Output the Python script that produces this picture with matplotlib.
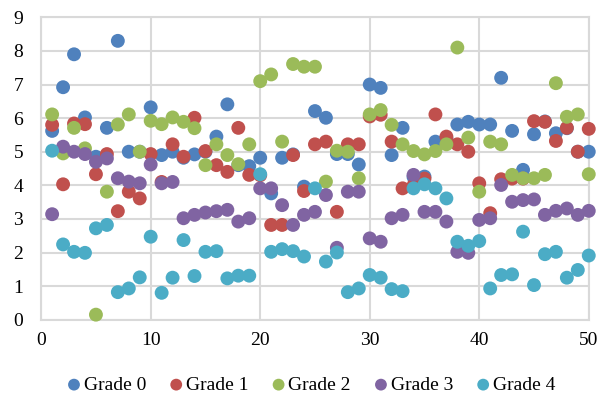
import matplotlib
matplotlib.use("Agg")
import matplotlib.pyplot as plt

plt.rcParams['font.family'] = ['Liberation Serif', 'DejaVu Serif']

x = list(range(1, 51))

grade0 = [5.62, 6.92, 7.90, 6.02, 4.85, 5.71, 8.30, 5.00, 5.00, 6.32,
          4.90, 5.00, 4.82, 4.92, 5.00, 5.45, 6.41, 4.60, 4.57, 4.82,
          3.76, 4.82, 4.92, 3.96, 6.21, 6.01, 4.93, 4.93, 4.62, 7.00,
          6.90, 4.90, 5.71, 4.25, 4.26, 5.30, 5.40, 5.81, 5.89, 5.81,
          5.81, 7.20, 5.62, 4.46, 5.52, 5.90, 5.55, 5.70, 5.00, 5.00]
grade1 = [5.80, 4.03, 5.84, 5.82, 4.33, 4.93, 3.23, 3.81, 3.61, 4.93,
          4.10, 5.22, 4.85, 6.01, 5.02, 4.60, 4.40, 5.71, 4.31, 4.30,
          2.82, 2.82, 4.90, 3.83, 5.22, 5.30, 3.21, 5.22, 5.22, 6.05,
          6.10, 5.30, 3.91, 4.00, 4.20, 6.11, 5.45, 5.22, 5.00, 4.06,
          3.17, 4.18, 4.20, 4.20, 5.91, 5.89, 5.32, 5.71, 5.00, 5.68]
grade2 = [6.11, 4.95, 5.71, 5.10, 0.15, 3.81, 5.81, 6.11, 5.00, 5.92,
          5.82, 6.02, 5.89, 5.70, 4.60, 5.22, 4.90, 4.63, 5.22, 7.10,
          7.30, 5.30, 7.61, 7.53, 7.53, 4.11, 5.03, 5.00, 4.21, 6.11,
          6.24, 5.80, 5.22, 5.02, 4.92, 5.02, 5.22, 8.10, 5.42, 3.81,
          5.30, 5.22, 4.31, 4.21, 4.21, 4.31, 7.04, 6.04, 6.11, 4.33]
grade3 = [3.14, 5.15, 5.00, 4.93, 4.70, 4.80, 4.21, 4.11, 4.06, 4.62,
          4.06, 4.10, 3.02, 3.12, 3.19, 3.23, 3.27, 2.92, 3.02, 3.91,
          3.91, 3.41, 2.82, 3.12, 3.21, 3.71, 2.14, 3.81, 3.81, 2.42,
          2.32, 3.02, 3.12, 4.31, 3.21, 3.21, 2.92, 2.02, 1.99, 2.97,
          3.02, 4.01, 3.51, 3.56, 3.58, 3.12, 3.24, 3.31, 3.12, 3.24]
grade4 = [5.03, 2.24, 2.02, 1.99, 2.72, 2.82, 0.82, 0.93, 1.26, 2.47,
          0.80, 1.25, 2.37, 1.30, 2.02, 2.04, 1.23, 1.31, 1.31, 4.33,
          2.02, 2.10, 2.04, 1.88, 3.91, 1.73, 2.00, 0.82, 0.93, 1.33,
          1.25, 0.91, 0.85, 3.91, 4.03, 3.91, 3.61, 2.32, 2.20, 2.34,
          0.93, 1.33, 1.35, 2.62, 1.03, 1.95, 2.02, 1.25, 1.48, 1.91]

series = [("Grade 0", grade0, "#4F81BD"),
          ("Grade 1", grade1, "#C0504D"),
          ("Grade 2", grade2, "#9BBB59"),
          ("Grade 3", grade3, "#8064A2"),
          ("Grade 4", grade4, "#4BACC6")]

fig = plt.figure(figsize=(6.02, 3.94), dpi=100)
ax = fig.add_axes([0.0684, 0.1886, 0.9096, 0.7674])

for name, vals, col in series:
    ax.scatter(x, vals, s=100, color=col, label=name, edgecolors='none', zorder=3, clip_on=False)

ax.set_xlim(0, 50)
ax.set_ylim(0, 9)
ax.set_xticks(range(0, 51, 10))
ax.set_yticks(range(0, 10))
ax.grid(True, color='#D9D9D9', linewidth=1.5, zorder=0)
for sp in ax.spines.values():
    sp.set_color('#D9D9D9')
    sp.set_linewidth(1.5)
ax.tick_params(length=0, labelsize=14, colors='black')
ax.tick_params(axis='x', pad=9)
ax.tick_params(axis='y', pad=13)

fig.legend(loc='center', bbox_to_anchor=(0.517, 0.023), ncol=5, frameon=False,
           fontsize=14, handlelength=0.7, handletextpad=0.15, columnspacing=1.2,
           markerscale=0.85, borderaxespad=0.0, borderpad=0.0)

fig.savefig("out.png", dpi=100)
